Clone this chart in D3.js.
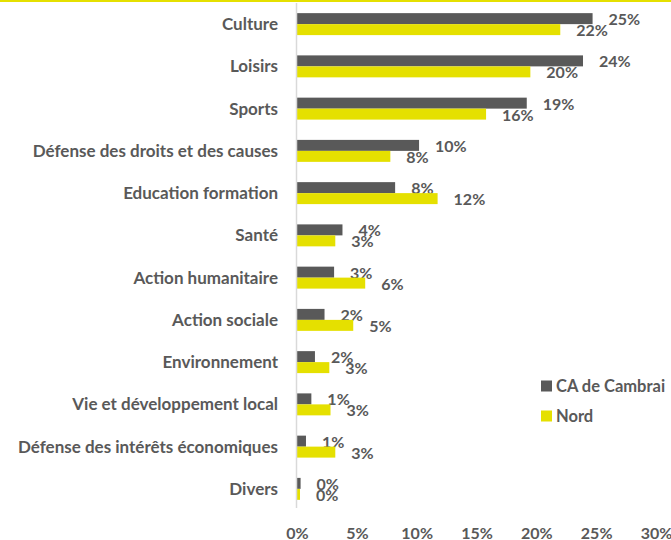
<!DOCTYPE html>
<html><head><meta charset="utf-8">
<script src="https://cdn.jsdelivr.net/npm/d3@7"></script>
<style>
html,body{margin:0;padding:0;background:#fff;}
svg{display:block;}
text{font-family:Lato,"Open Sans",sans-serif;font-weight:bold;fill:#595959;}
</style></head>
<body>
<svg id="chart" width="671" height="540"></svg>
<script>
const categories = ["Culture","Loisirs","Sports","Défense des droits et des causes","Education formation","Santé","Action humanitaire","Action sociale","Environnement","Vie et développement local","Défense des intérêts économiques","Divers"];
const seriesNames = ["CA de Cambrai","Nord"];
const cambrai = [24.7,23.9,19.2,10.2,8.2,3.8,3.1,2.3,1.5,1.2,0.75,0.3];
const nord = [22.0,19.5,15.8,7.8,11.75,3.2,5.7,4.7,2.7,2.8,3.2,0.25];
const cambraiLabels = ["25%","24%","19%","10%","8%","4%","3%","2%","2%","1%","1%","0%"];
const nordLabels = ["22%","20%","16%","8%","12%","3%","6%","5%","3%","3%","3%","0%"];
const tickValues = [0,5,10,15,20,25,30];
const colors = ["#595959","#E5E000"];

const svg = d3.select("#chart");
const W = 671, H = 540;

// top yellow rule
svg.append("rect").attr("x",0).attr("y",0).attr("width",W).attr("height",2).attr("fill","#E5E000");

const x = d3.scaleLinear().domain([0,30]).range([297,656]);
const y = d3.scaleBand().domain(categories).range([3,510]).paddingInner(0.48).paddingOuter(0.24);
const y1 = d3.scaleBand().domain(seriesNames).range([0,y.bandwidth()]);

const data = [cambrai, nord];
const labels = [cambraiLabels, nordLabels];

// bars
seriesNames.forEach((s,si)=>{
  const g = svg.append("g");
  g.selectAll("rect").data(categories).join("rect")
    .attr("x",x(0))
    .attr("y",c=>y(c)+y1(s))
    .attr("width",(c,i)=>x(data[si][i])-x(0))
    .attr("height",y1.bandwidth())
    .attr("fill",colors[si]);
  g.selectAll("text").data(categories).join("text")
    .attr("x",(c,i)=>x(data[si][i])+16)
    .attr("y",c=>y(c)+y1(s)+y1.bandwidth()/2+1)
    .attr("dy","0.35em")
    .attr("font-size",16)
    .text((c,i)=>labels[si][i]);
});

// vertical axis line
svg.append("line").attr("x1",x(0)-0.5).attr("x2",x(0)-0.5).attr("y1",3).attr("y2",508)
  .attr("stroke","#d9d9d9").attr("stroke-width",1.5);

// category labels
const yAxis = d3.axisLeft(y).tickSize(0).tickPadding(0);
const ya = svg.append("g").attr("transform","translate(278,0)").call(yAxis);
ya.select(".domain").remove();
ya.selectAll("text").attr("font-size",17).attr("fill","#595959").style("font-family","Lato,'Open Sans',sans-serif").attr("dy","0.35em");

// x tick labels
const xAxis = d3.axisBottom(x).tickValues(tickValues).tickSize(0).tickPadding(0).tickFormat(d=>d+"%");
const xa = svg.append("g").attr("transform","translate(0,527)").call(xAxis);
xa.select(".domain").remove();
xa.selectAll("text").attr("font-size",16).attr("fill","#595959").style("font-family","Lato,'Open Sans',sans-serif").attr("dy","0.35em").attr("y",6);

// legend
const leg = svg.append("g");
seriesNames.forEach((s,i)=>{
  const ly = 386 + i*30;
  leg.append("rect").attr("x",541).attr("y",ly-5.5).attr("width",11).attr("height",11).attr("fill",colors[i]);
  leg.append("text").attr("x",556).attr("y",ly).attr("dy","0.35em").attr("font-size",16.5).text(s);
});
</script>
</body></html>
